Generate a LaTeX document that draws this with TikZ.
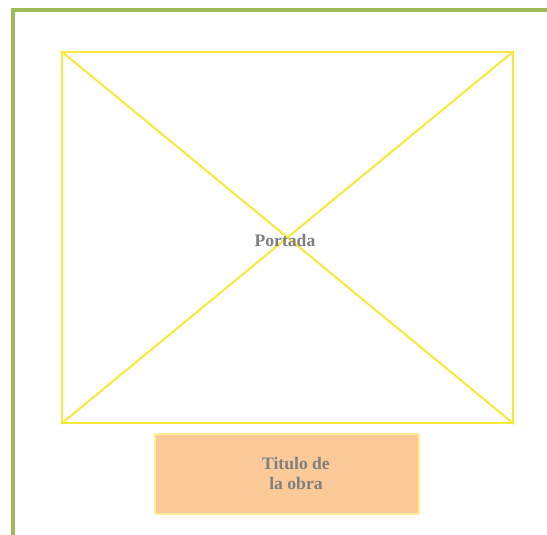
\documentclass[tikz,border=0pt]{standalone}
\usepackage{fontspec}
\setmainfont{Liberation Serif}
\definecolor{framegreen}{HTML}{9BBB59}
\definecolor{boxyellow}{HTML}{F6E93A}
\definecolor{peach}{HTML}{FBCA98}
\definecolor{peachedge}{HTML}{FFEE99}
\definecolor{txtgray}{HTML}{7F7F7F}
\tikzset{
  lbl/.style={text=txtgray, font=\fontsize{17.6}{20}\selectfont\bfseries, align=center, inner sep=0pt},
  coverbox/.style={draw=boxyellow, line width=2pt, minimum width=451pt, minimum height=371pt},
  titlebox/.style={draw=peachedge, fill=peach, line width=1.5pt, minimum width=264pt, minimum height=80pt},
}
\begin{document}
\begin{tikzpicture}[x=1pt,y=-1pt]
\useasboundingbox (0,0) rectangle (547,535);
\fill[white] (0,0) rectangle (547,535);
\coordinate (gb) at (13,537);
\coordinate (gc) at (13,10);
\coordinate (gr) at (549,10);
\draw[framegreen, line width=4pt] (gb) -- (gc) -- (gr);
\node[coverbox] (port) at (287.5,237.5) {};
\draw[boxyellow, line width=2pt] (port.north west) -- (port.south east);
\draw[boxyellow, line width=2pt] (port.north east) -- (port.south west);
\node[lbl] (portlbl) at (285,240) {Portada};
\node[titlebox] (tit) at (287,474) {};
\node[lbl] (titlbl) at (296,473) {Titulo de\\la obra};
\end{tikzpicture}
\end{document}
